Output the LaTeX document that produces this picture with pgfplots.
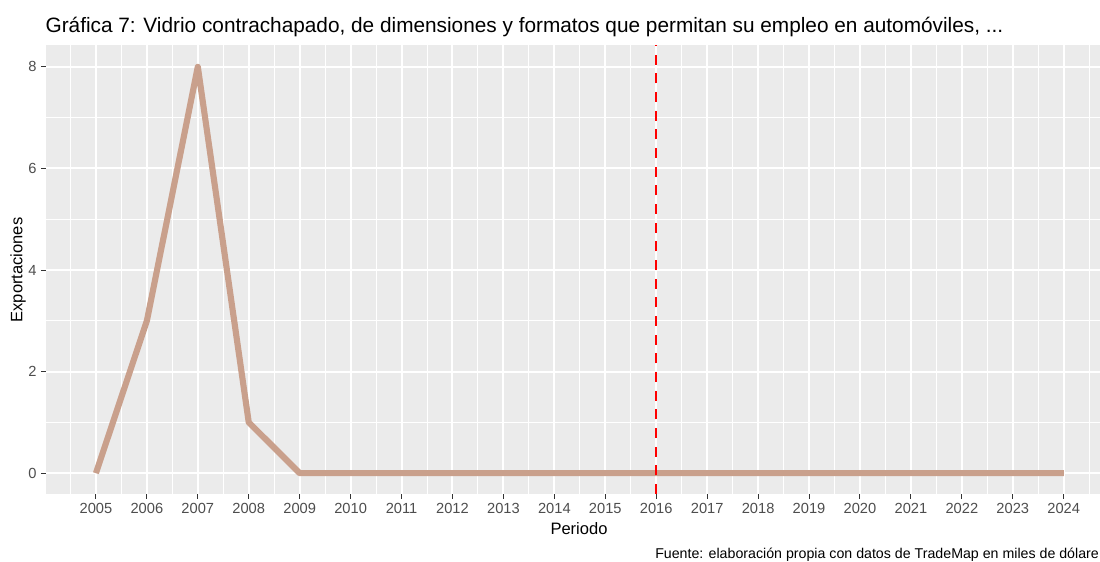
\documentclass[border=0pt]{standalone}
\usepackage{fontspec}
\setmainfont{Liberation Sans}
\usepackage{pgfplots}
\pgfplotsset{compat=1.18}
\definecolor{panelbg}{HTML}{EBEBEB}
\definecolor{linecol}{HTML}{C9A08C}
\definecolor{ticklab}{HTML}{4D4D4D}
\definecolor{tickcol}{HTML}{333333}

\begin{document}
\begin{tikzpicture}
\useasboundingbox (0,0) rectangle (825pt,420.75pt);
\begin{axis}[
  at={(34.5pt,50.25pt)}, anchor=south west,
  scale only axis, width=790.5pt, height=336.75pt,
  xmin=2004.02, xmax=2024.71, ymin=-0.41, ymax=8.43,
  axis background/.style={fill=panelbg},
  axis line style={draw=none},
  xtick={2005,...,2024}, ytick={0,2,...,8},
  minor xtick={2004.5,2005.5,...,2024.5}, minor ytick={1,3,5,7},
  grid=both,
  major grid style={white, line width=1.5pt},
  minor grid style={white, line width=0.75pt},
  tick style={tickcol, line width=0.75pt},
  major tick length=3.5pt, minor tick length=0pt,
  tick align=outside, tick pos=left,
  ticklabel style={font=\fontsize{11}{13}\selectfont, text=ticklab},
  /pgf/number format/assume math mode=true,
  /pgf/number format/1000 sep={},
  clip=false,
]
% exportaciones (miles de dolares)
\addplot[linecol, line width=4.6pt, line join=round] coordinates {
  (2005,0) (2006,3) (2007,8) (2008,1) (2009,0) (2010,0) (2011,0) (2012,0)
  (2013,0) (2014,0) (2015,0) (2016,0) (2017,0) (2018,0) (2019,0) (2020,0)
  (2021,0) (2022,0) (2023,0) (2024,0)
};
% linea vertical 2016
\draw[red, line width=1.6pt, dash pattern=on 7.5pt off 6.5pt]
  (axis cs:2016,-0.41) -- (axis cs:2016,8.43);
\end{axis}

\node[anchor=base west, font=\fontsize{15.6}{18}\selectfont, inner sep=0pt]
  at (34pt,396pt) {Gráfica 7: Vidrio contrachapado, de dimensiones y formatos que permitan su empleo en automóviles, ...};
\node[anchor=base, font=\fontsize{12.4}{15}\selectfont, inner sep=0pt]
  at (434.25pt,20.25pt) {Periodo};
\node[rotate=90, font=\fontsize{12.4}{15}\selectfont, inner sep=0pt]
  at (13.5pt,218.25pt) {Exportaciones};
\node[anchor=base west, font=\fontsize{10.65}{12}\selectfont, inner sep=0pt]
  at (491.25pt,2.25pt) {Fuente: elaboración propia con datos de TradeMap en miles de dólare};
\end{tikzpicture}
\end{document}
